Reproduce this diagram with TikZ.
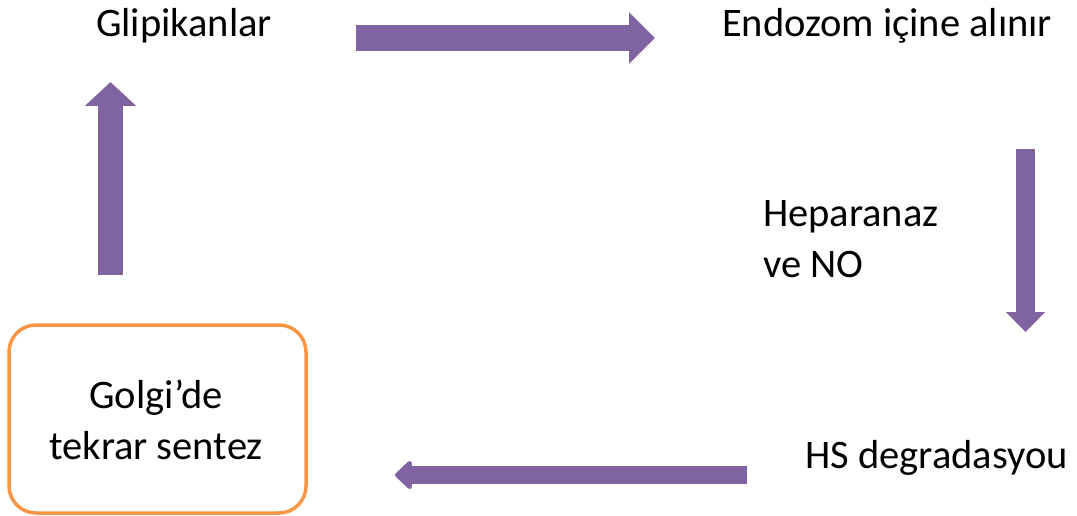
\documentclass[tikz,border=0pt]{standalone}
\usepackage{fontspec}
\setmainfont{Carlito}
\usetikzlibrary{arrows.meta}
\definecolor{arrowpurple}{HTML}{8064A2}
\definecolor{boxorange}{HTML}{F79646}

\begin{document}
\begin{tikzpicture}[x=1pt,y=-1pt,
    lbl/.style={inner sep=0pt,font=\fontsize{40.5}{51}\selectfont},
    fat/.style={arrowpurple,line width=#1}]
        \useasboundingbox (0,0) rectangle (1077,516);
        \draw (184,37) node[lbl,anchor=base](glip){Glipikanlar};
        \draw (722,37) node[lbl,anchor=base west](endo){Endozom içine alınır};
        \draw (763,277) node[lbl,anchor=base west,align=left](hep){Heparanaz\\ve NO};
        \draw (805,468) node[lbl,anchor=base west](hs){HS degradasyou};
        \draw (157.5,419) node[lbl,draw=boxorange,line width=3.5pt,
          rounded corners=27pt,minimum width=297pt,minimum height=188pt](golgi){};
        \draw (156,459) node[lbl,anchor=base,align=center](golgitxt){Golgi’de\\tekrar sentez};
        \coordinate (a1) at (356,38);
        \coordinate (b1) at (655,38);
        \coordinate (a2) at (1025.5,149);
        \coordinate (b2) at (1025.5,332);
        \coordinate (a3) at (747,475);
        \coordinate (b3) at (395,475);
        \coordinate (a4) at (110.5,275);
        \coordinate (b4) at (110.5,82);
        \draw[fat=26pt,-{Triangle[width=50pt,length=26pt]}] (a1) -- (b1);
        \draw[fat=19pt,-{Triangle[width=38pt,length=20pt]}] (a2) -- (b2);
        \draw[fat=18pt,-{Triangle[width=33pt,length=18pt,round]}] (a3) -- (b3);
        \draw[fat=25pt,-{Triangle[width=50pt,length=24pt]}] (a4) -- (b4);
      \end{tikzpicture}
\end{document}
